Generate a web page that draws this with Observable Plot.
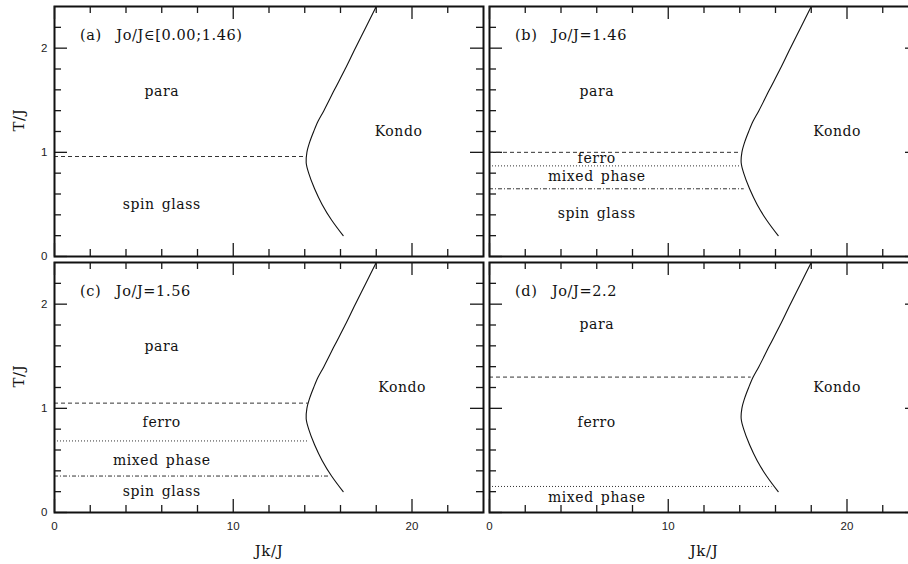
<!DOCTYPE html>
<html><head><meta charset="utf-8">
<script src="https://cdn.jsdelivr.net/npm/d3@7"></script>
<script src="https://cdn.jsdelivr.net/npm/@observablehq/plot@0.6"></script>
<style>
html,body{margin:0;padding:0;background:#fff;overflow:hidden;}
#chart svg{max-width:none !important;}
#chart svg text{white-space:pre;}
#chart g[font-family="DejaVu Serif"] text{letter-spacing:0.6px;word-spacing:2px;}
</style></head><body><div id="chart"></div>
<script>
// Panels
const panels = ["a", "b", "c", "d"];
const panelCol = [0, 1, 0, 1];
const panelRow = [0, 0, 1, 1];
const panelTitles = ["(a)  Jo/J∈[0.00;1.46)", "(b)  Jo/J=1.46", "(c)  Jo/J=1.56", "(d)  Jo/J=2.2"];
const titleJk = [1.43, 1.43, 1.43, 1.43];
const titleT = [2.12, 2.12, 2.12, 2.12];

// Kondo boundary (same in every panel)
const kondoT  = [0.2, 0.35, 0.5, 0.65, 0.8, 0.9, 1.0, 1.1, 1.2, 1.3, 1.4, 1.6, 1.8, 2.0, 2.2, 2.4];
const kondoJk = [16.15, 15.5, 14.97, 14.55, 14.22, 14.08, 14.12, 14.28, 14.5, 14.75, 15.07, 15.66, 16.26, 16.83, 17.42, 18.0];

// Horizontal transition lines
const linePanel = ["a", "b", "b", "b", "c", "c", "c", "d", "d"];
const lineKind  = ["upper", "upper", "ferro-mixed", "mixed-sg", "upper", "ferro-mixed", "mixed-sg", "upper", "ferro-mixed"];
const lineT     = [0.96, 1.0, 0.87, 0.65, 1.05, 0.687, 0.35, 1.30, 0.25];
const lineEnd   = [14.07, 14.05, 14.02, 14.25, 14.2, 14.2, 15.35, 14.64, 15.8];

// Region labels
const labelPanel = ["a", "a", "a", "b", "b", "b", "b", "b", "c", "c", "c", "c", "c", "d", "d", "d", "d"];
const labelText  = ["para", "Kondo", "spin glass", "para", "ferro", "mixed phase", "spin glass", "Kondo",
                    "para", "ferro", "mixed phase", "spin glass", "Kondo", "para", "ferro", "mixed phase", "Kondo"];
const labelJk    = [6.0, 19.25, 6.0, 6.0, 6.0, 6.0, 6.0, 19.45, 6.0, 6.0, 6.0, 6.0, 19.45, 6.0, 6.0, 6.0, 19.45];
const labelT     = [1.585, 1.2, 0.5, 1.585, 0.94, 0.765, 0.41, 1.2, 1.595, 0.86, 0.50, 0.20, 1.2, 1.80, 0.86, 0.14, 1.2];

// Axes
const xLabel = "Jk/J";
const yLabel = "T/J";
const xDomain = [0, 24];
const yDomain = [0, 2.4];
const xMajor = [0, 10, 20];
const xMinor = [2, 4, 6, 8, 12, 14, 16, 18, 22];
const yMajor = [0, 1, 2];
const yMinor = [0.2, 0.4, 0.6, 0.8, 1.2, 1.4, 1.6, 1.8, 2.2];

// ---- build tables ----
const pIdx = p => panels.indexOf(p);
const kondo = kondoT.map((t, i) => ({T: t, Jk: kondoJk[i]}));
const lines = linePanel.map((p, i) => ({col: panelCol[pIdx(p)], row: panelRow[pIdx(p)], kind: lineKind[i], T: lineT[i], end: lineEnd[i]}));
const labels = labelPanel.map((p, i) => ({col: panelCol[pIdx(p)], row: panelRow[pIdx(p)], text: labelText[i], Jk: labelJk[i], T: labelT[i]}));
const titles = panels.map((p, i) => ({col: panelCol[i], row: panelRow[i], text: panelTitles[i], Jk: titleJk[i], T: titleT[i]}));
const leftPanels = titles.filter(d => d.col === 0);
const bottomPanels = titles.filter(d => d.row === 1);

// ---- layout (facet bands are rounded by Plot: 429 x 250) ----
const W = 920, H = 564, mL = 53.5, mR = 2.5, mT = 5, mB = 51.5;
const px = 6.5 / 435, py = 6.3 / 256.9;
const bandW = 429, bandH = 250;
const MAJ = 13, MIN = 7;
// tick lengths expressed in scale units (linear scales span the panel band)
const xU = (xDomain[1] - xDomain[0]) / bandW, yU = (yDomain[1] - yDomain[0]) / bandH;
const tickStyle = {stroke: "#1a1a1a", strokeWidth: 1.3};
const serif = "DejaVu Serif";
const ink = "#111";

// vertical ticks (top and bottom), one set per panel
const xTickList = [...xMajor.map(v => ({v, len: MAJ})), ...xMinor.map(v => ({v, len: MIN}))];
const xTickRows = titles.flatMap(p => xTickList.flatMap(t => [
  {col: p.col, row: p.row, v: t.v, a: yDomain[0], b: yDomain[0] + t.len * yU},
  {col: p.col, row: p.row, v: t.v, a: yDomain[1] - t.len * yU, b: yDomain[1]}
]));
const yTicks = (vals, len) => [
  Plot.ruleY(vals, {y: d => d, x1: xDomain[0], x2: xDomain[0] + len * xU, ...tickStyle}),
  Plot.ruleY(vals, {y: d => d, x1: xDomain[1] - len * xU, x2: xDomain[1], ...tickStyle})
];

const lineMark = (kind, dash) => Plot.ruleY(lines.filter(d => d.kind === kind), {
  fx: "col", fy: "row", y: "T", x1: 0, x2: "end", stroke: "#333", strokeWidth: 1, strokeDasharray: dash
});

const chart = Plot.plot({
  width: W, height: H,
  marginLeft: mL, marginRight: mR, marginTop: mT, marginBottom: mB,
  style: {fontFamily: "Liberation Sans, Arial, sans-serif", fontSize: "11.5px", color: "#222", background: "#fff"},
  fx: {domain: [0, 1], paddingInner: px, paddingOuter: 0, axis: null},
  fy: {domain: [0, 1], paddingInner: py, paddingOuter: 0, axis: null},
  x: {domain: xDomain},
  y: {domain: yDomain},
  marks: [
    // inward ticks on left and right sides
    ...yTicks(yMajor, MAJ), ...yTicks(yMinor, MIN),
    // transition lines
    lineMark("upper", "4,3"),
    lineMark("ferro-mixed", "1,2"),
    lineMark("mixed-sg", "4,2,1,2"),
    // Kondo boundary
    Plot.line(kondo, {x: "Jk", y: "T", curve: "catmull-rom", stroke: ink, strokeWidth: 1.1}),
    // region labels
    Plot.text(labels, {fx: "col", fy: "row", x: "Jk", y: "T", text: "text", fontFamily: serif, fontSize: 14, fill: ink}),
    Plot.text(titles, {fx: "col", fy: "row", x: "Jk", y: "T", text: "text", textAnchor: "start", fontFamily: serif, fontSize: 14.5, fill: ink}),
    // frame
    Plot.frame({stroke: "#111", strokeWidth: 2}),
    // inward ticks on top and bottom sides
    Plot.ruleX(xTickRows, {fx: "col", fy: "row", x: "v", y1: "a", y2: "b", ...tickStyle}),
    // tick labels
    Plot.axisX(xMajor, {anchor: "bottom", tickSize: 0, tickPadding: 9, tickFormat: d => String(d), label: null, fill: "#222"}),
    Plot.axisY(yMajor, {anchor: "left", tickSize: 0, tickPadding: 7, tickFormat: d => String(d), label: null, fill: "#222"}),
    // axis titles
    Plot.text(leftPanels, {fx: "col", fy: "row", text: () => yLabel, frameAnchor: "left", dx: -35, rotate: -90, lineAnchor: "middle", fontFamily: serif, fontSize: 15, fill: ink}),
    Plot.text(bottomPanels, {fx: "col", fy: "row", text: () => xLabel, frameAnchor: "bottom", dy: 39, lineAnchor: "middle", fontFamily: serif, fontSize: 15, fill: ink})
  ]
});
document.getElementById("chart").appendChild(chart);
</script></body></html>
